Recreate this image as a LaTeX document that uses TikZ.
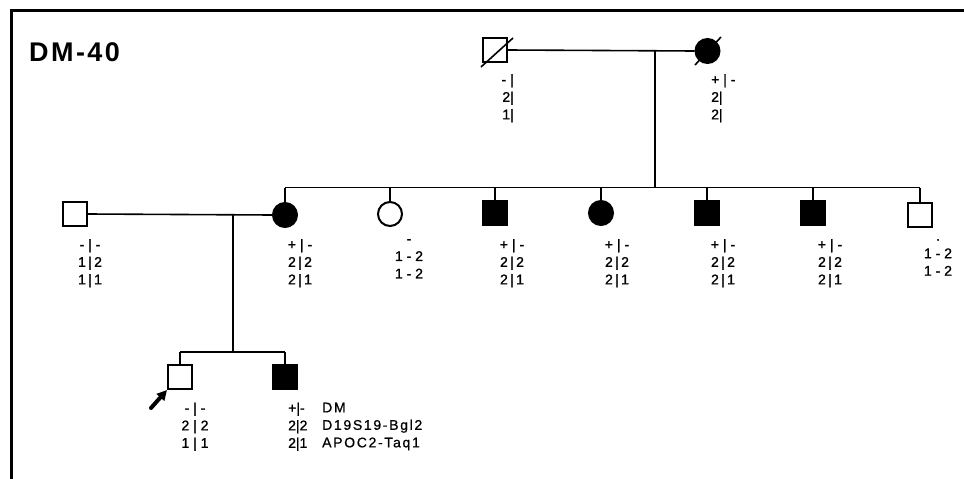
\documentclass[tikz,border=0pt]{standalone}
\usepackage{fontspec}
\setmainfont{Liberation Sans}
\newfontfamily\labfont[FakeBold=1.2]{Liberation Sans}
\newfontfamily\titlefont[LetterSpace=9]{Liberation Sans}
\newfontfamily\markfont[LetterSpace=12,FakeBold=0.8]{Liberation Sans}
\usetikzlibrary{arrows.meta}
\begin{document}
\begin{tikzpicture}[x=1pt,y=-1pt,
  sym/.style={draw, line width=2pt, inner sep=0pt, minimum size=24pt},
  male/.style={sym, rectangle},
  female/.style={sym, circle},
  aff/.style={fill=black},
  conn/.style={line width=1.6pt},
  lab/.style={font=\labfont\fontsize{14}{17.5}\selectfont, inner sep=0pt, align=center, anchor=north},
  labl/.style={lab, align=left, anchor=north west},
  labr/.style={lab, align=right, anchor=north east},
  markerlab/.style={font=\markfont\fontsize{14}{17.5}\selectfont, inner sep=0pt, align=left, anchor=north west},
  titlestyle/.style={font=\titlefont\bfseries\fontsize{27}{30}\selectfont, inner sep=0pt, anchor=north west}
]
\useasboundingbox (0,0) rectangle (964,479);
\fill[white] (0,0) rectangle (964,479);
% frame
\draw[line width=3pt] (11,479) -- (11,10) -- (964,10);
\node[titlestyle] (T) at (29,42) {DM-40};

% generation I
\node[male] (I1) at (495,50) {};
\node[female, aff] (I2) at (707.5,51) {};
\coordinate (d1a) at (481,67); \coordinate (d1b) at (513,38);
\coordinate (d2a) at (695,65); \coordinate (d2b) at (721,37);
\draw[conn] (d1a) -- (d1b);
\draw[conn] (d2a) -- (d2b);
\draw[conn] (I1.east) -- (I2.west);
\coordinate (m1) at (655,50);
\coordinate (sib2) at (655,187.5);
\draw[conn] (m1) -- (sib2);
\node[labr] (LI1) at (514,74) {- |\\2|\\1|};
\node[labl] (LI2) at (711,74) {+ | -\\2|\\2|};

% generation II
\node[male] (II1) at (75,214) {};
\node[female, aff] (II2) at (285,215) {};
\node[female] (II3) at (390,214) {};
\node[male, aff] (II4) at (495,213) {};
\node[female, aff] (II5) at (601,213) {};
\node[male, aff] (II6) at (707,213) {};
\node[male, aff] (II7) at (813,213) {};
\node[male] (II8) at (920,215) {};
\draw[conn] (II1.east) -- (II2.west);
\draw[conn] (II2.north |- sib2) -- (II8.north |- sib2);
\foreach \n in {II2,II3,II4,II5,II6,II7,II8}
  \draw[conn] (\n.north |- sib2) -- (\n.north);

\node[lab] (LII1) at (90,239) {- | -\\1\,|\,2\\1\,|\,1};
\node[lab] (LII2) at (300,239) {+ | -\\2\,|\,2\\2\,|\,1};
\node[lab] (LII3) at (409,239) {-\\1 - 2\\1 - 2};
\node[lab] (LII4) at (512,239) {+ | -\\2\,|\,2\\2\,|\,1};
\node[lab] (LII5) at (617,239) {+ | -\\2\,|\,2\\2\,|\,1};
\node[lab] (LII6) at (723,239) {+ | -\\2\,|\,2\\2\,|\,1};
\node[lab] (LII7) at (830,239) {+ | -\\2\,|\,2\\2\,|\,1};
\node[lab] (LII8) at (938,239) {.\\1 - 2\\1 - 2};

% generation III
\coordinate (m2) at (233,214);
\coordinate (sib3) at (233,352);
\draw[conn] (m2) -- (sib3);
\node[male] (III1) at (180,377) {};
\node[male, aff] (III2) at (285,377) {};
\draw[conn] (III1.north |- sib3) -- (III2.north |- sib3);
\draw[conn] (III1.north |- sib3) -- (III1.north);
\draw[conn] (III2.north |- sib3) -- (III2.north);
\coordinate (pa) at (151,408);
\draw[line width=4pt, line cap=round, -{Triangle[length=10pt,width=10pt]}] (pa) -- (III1.south west);

\node[lab] (LIII1) at (195,402.5) {- | -\\2 | 2\\1 | 1};
\node[labl] (LIII2) at (288,402.5) {+|-\\2|2\\2|1};
\node[markerlab] (MK) at (322,402.5) {DM\\D19S19-Bgl2\\APOC2-Taq1};
\end{tikzpicture}
\end{document}
